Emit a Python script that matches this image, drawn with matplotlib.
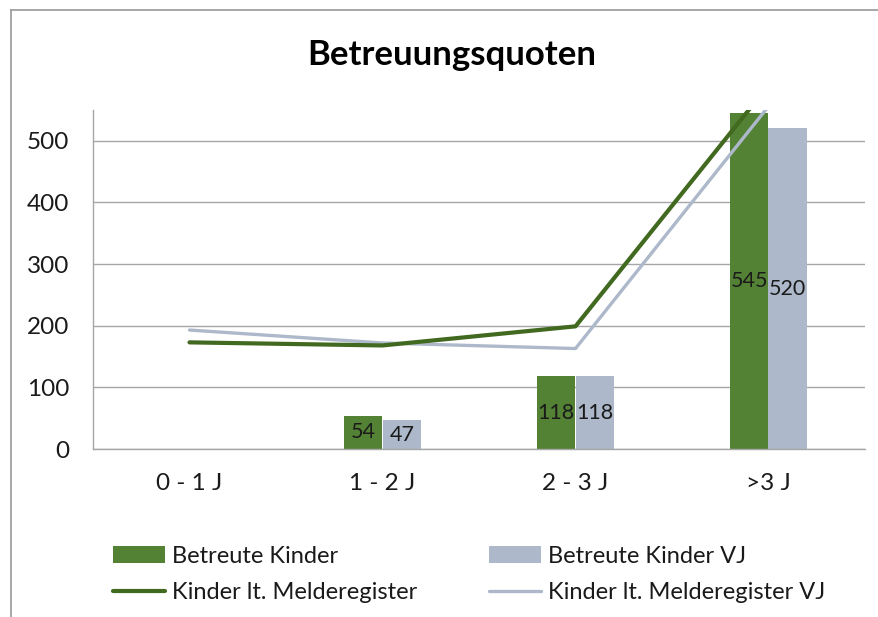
import numpy as np
import matplotlib
matplotlib.use("Agg")
import matplotlib.pyplot as plt
from matplotlib.patches import Patch
from matplotlib.lines import Line2D

plt.rcParams['font.family'] = ['Lato', 'DejaVu Sans']

categories = ['0 - 1 J', '1 - 2 J', '2 - 3 J', '>3 J']
betreute = [np.nan, 54, 118, 545]
betreute_vj = [np.nan, 47, 118, 520]
melderegister = [173, 168, 199, 590]
melderegister_vj = [193, 172, 163, 556]
yticks = [0, 100, 200, 300, 400, 500]

c_green = '#548235'
c_gray = '#adb9ca'
c_line_green = '#41691f'
c_line_gray = '#adb9ca'
grid_c = '#a6a6a6'

W, H = 879, 617
fig = plt.figure(figsize=(W / 100, H / 100), dpi=100)
ax = fig.add_axes([93 / W, 1 - 449 / H, (865 - 93) / W, (449 - 110) / H])

x = np.arange(len(categories))
bw = 0.2
b1 = ax.bar(x - bw / 2, betreute, bw, color=c_green, zorder=2)
b2 = ax.bar(x + bw / 2, betreute_vj, bw, color=c_gray, zorder=2)

for bars, vals in ((b1, betreute), (b2, betreute_vj)):
    for rect, v in zip(bars, vals):
        if np.isnan(v):
            continue
        ax.text(rect.get_x() + rect.get_width() / 2, v / 2, f"{int(v)}",
                ha='center', va='center', fontsize=15.5, color='#1a1a1a', zorder=5)

ax.plot(x, melderegister_vj, color=c_line_gray, lw=2.4, zorder=3, solid_capstyle='round')
ax.plot(x, melderegister, color=c_line_green, lw=3.0, zorder=4, solid_capstyle='round')

ax.set_xlim(-0.5, 3.5)
ax.set_ylim(0, 550)
ax.set_yticks(yticks)
ax.set_xticks(x)
ax.set_xticklabels(categories)
ax.tick_params(axis='both', length=0, labelsize=17.5, colors='#1a1a1a')
ax.tick_params(axis='y', pad=17)
ax.tick_params(axis='x', pad=17)
ax.yaxis.grid(True, color=grid_c, lw=1.0, zorder=0)
ax.set_axisbelow(True)
for s in ('top', 'right'):
    ax.spines[s].set_visible(False)
for s in ('left', 'bottom'):
    ax.spines[s].set_color(grid_c)
    ax.spines[s].set_linewidth(1.0)

fig.text(0.5 * (307 + 597) / W, 1 - 55 / H, 'Betreuungsquoten', ha='center', va='center',
         fontsize=25, fontweight='bold', color='#000000')

# outer frame (left and top edges)
fig.add_artist(Line2D([11 / W, 11 / W], [0, 1 - 10 / H], transform=fig.transFigure,
                      color='#a0a0a0', lw=1.3))
fig.add_artist(Line2D([11 / W, 1], [1 - 10 / H, 1 - 10 / H], transform=fig.transFigure,
                      color='#a0a0a0', lw=1.3))

leg_kw = dict(loc='upper left', frameon=False, fontsize=17, handlelength=2.2,
              handletextpad=0.3, labelspacing=0.65, borderpad=0, borderaxespad=0,
              labelcolor='#1a1a1a')
h1 = [Patch(facecolor=c_green, edgecolor='none'),
      Line2D([], [], color=c_line_green, lw=3.0, solid_capstyle='round')]
h2 = [Patch(facecolor=c_gray, edgecolor='none'),
      Line2D([], [], color=c_line_gray, lw=2.4, solid_capstyle='round')]
fig.legend(h1, ['Betreute Kinder', 'Kinder lt. Melderegister'],
           bbox_to_anchor=(113 / W, 1 - 546 / H), **leg_kw)
fig.legend(h2, ['Betreute Kinder VJ', 'Kinder lt. Melderegister VJ'],
           bbox_to_anchor=(489 / W, 1 - 546 / H), **leg_kw)

fig.savefig('out.png', dpi=100)
